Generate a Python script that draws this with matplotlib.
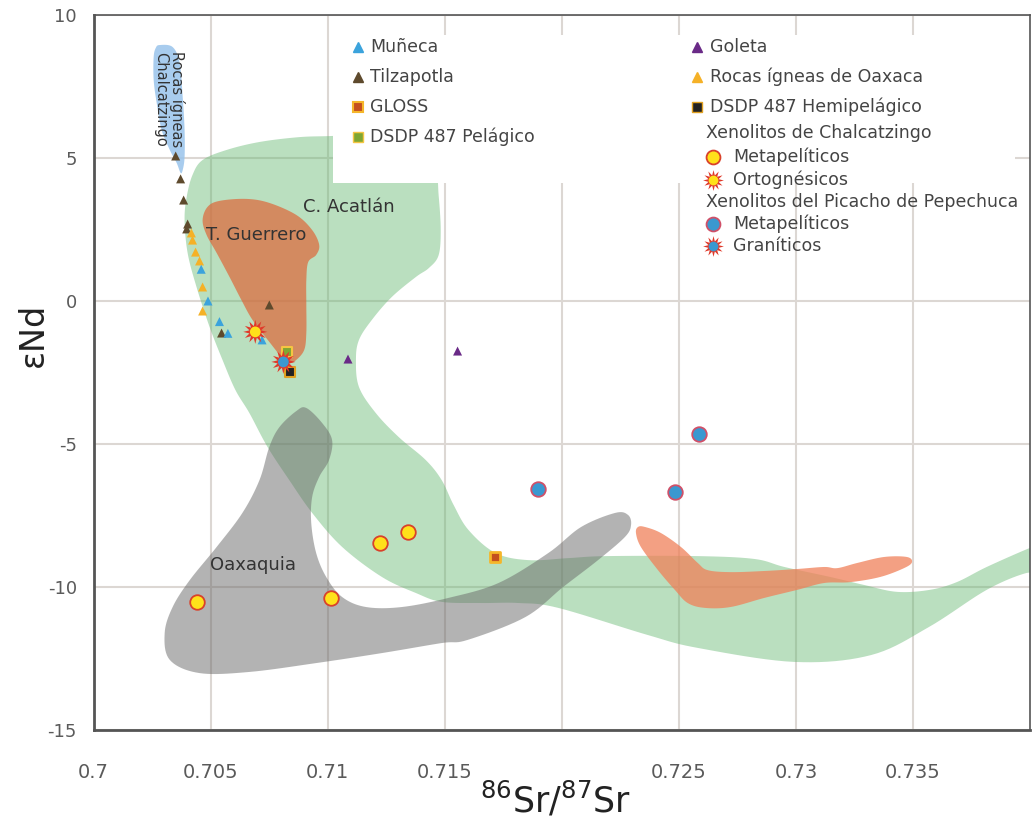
import numpy as np
import matplotlib
matplotlib.use("Agg")
import matplotlib.pyplot as plt
from matplotlib.patches import Polygon, Rectangle

plt.rcParams['font.family'] = ['DejaVu Sans']
plt.rcParams['axes.unicode_minus'] = False

# ---------------- data ----------------
munieca_x = [0.70460, 0.70489, 0.70538, 0.70574, 0.70720]
munieca_y = [1.11, 0.00, -0.72, -1.13, -1.36]

tilzapotla_x = [0.70351, 0.70372, 0.70385, 0.70402, 0.70398, 0.70751, 0.70547]
tilzapotla_y = [5.07, 4.27, 3.53, 2.69, 2.52, -0.14, -1.12]

oaxaca_x = [0.70418, 0.70423, 0.70436, 0.70453, 0.70466, 0.70466]
oaxaca_y = [2.38, 2.13, 1.71, 1.40, 0.49, -0.35]

goleta_x = [0.71087, 0.71555]
goleta_y = [-2.03, -1.75]

gloss_x = [0.71717]
gloss_y = [-8.95]

pelagico_x = [0.70828]
pelagico_y = [-1.78]

hemipelagico_x = [0.70840]
hemipelagico_y = [-2.48]

chal_meta_x = [0.70440, 0.71015, 0.71223, 0.71343]
chal_meta_y = [-10.52, -10.38, -8.46, -8.08]

chal_orto_x = [0.70691]
chal_orto_y = [-1.08]

pepe_meta_x = [0.71900, 0.72483, 0.72585]
pepe_meta_y = [-6.57, -6.68, -4.65]

pepe_gran_x = [0.70811]
pepe_gran_y = [-2.13]

# field outlines (data units)
acatlan_x = [0.70423, 0.70466, 0.70568, 0.70709, 0.70879, 0.71019, 0.7122, 0.7139, 0.7146,
             0.71474, 0.71483, 0.71474, 0.71432, 0.71377, 0.71274, 0.71189, 0.71134, 0.71121,
             0.71134, 0.71206, 0.71304, 0.71419, 0.71487, 0.71538, 0.71602, 0.71717, 0.71857,
             0.72028, 0.72189, 0.72581, 0.72823, 0.72951, 0.73147, 0.73292, 0.73432, 0.73572,
             0.73687, 0.73815, 0.73998, 0.7405, 0.7405, 0.73985, 0.73815, 0.73568, 0.73321,
             0.72994, 0.72581, 0.72368, 0.71985, 0.71815, 0.71657, 0.71487, 0.71377, 0.71232,
             0.71062, 0.70934, 0.70836, 0.70743, 0.70666, 0.70606, 0.70551, 0.70496, 0.70440,
             0.70402, 0.70389, 0.70398]
acatlan_y = [4.41, 4.93, 5.28, 5.56, 5.73, 5.77, 5.85, 5.6, 4.7,
             3.71, 2.5, 1.6, 1.15, 0.84, 0.14, -0.66, -1.36, -2.06,
             -3.01, -3.92, -4.76, -5.56, -6.26, -7.13, -8.01, -8.81, -9.06,
             -8.99, -8.92, -8.92, -9.02, -9.30, -9.65, -9.93, -10.17, -10.10,
             -9.83, -9.30, -8.64, -8.53, -9.58, -9.51, -10.10, -11.40, -12.38,
             -12.62, -12.13, -11.68, -10.73, -10.56, -10.56, -10.52, -10.21, -9.65,
             -8.60, -7.41, -6.26, -5.10, -3.92, -3.11, -2.06, -0.91, 0.49,
             1.68, 2.83, 3.64]

guerrero_x = [0.70466, 0.70487, 0.70538, 0.70653, 0.70751, 0.70866, 0.70934, 0.70964, 0.70951,
              0.70917, 0.70909, 0.70909, 0.70909, 0.70900, 0.70866, 0.70836, 0.70806, 0.70751,
              0.70679, 0.70632, 0.70581, 0.70526, 0.70483]
guerrero_y = [2.83, 3.29, 3.50, 3.57, 3.43, 3.01, 2.48, 1.96, 1.61,
              1.36, 0.73, -0.14, -1.12, -1.71, -2.06, -2.17, -1.99, -1.43,
              -0.66, 0.03, 0.84, 1.68, 2.31]

chalc_x = [0.70283, 0.70338, 0.70368, 0.70381, 0.70389, 0.70389, 0.70381, 0.70372, 0.70355,
           0.70326, 0.70291, 0.70270, 0.70257, 0.70257, 0.70266]
chalc_y = [8.95, 8.88, 8.32, 7.13, 5.98, 5.03, 4.58, 4.48, 4.83,
           5.28, 5.98, 6.92, 7.73, 8.53, 8.85]

oaxaquia_x = [0.70866, 0.70909, 0.70977, 0.71019, 0.71006, 0.70964, 0.70934, 0.70930, 0.70951,
              0.70994, 0.71062, 0.71164, 0.71317, 0.71517, 0.71730, 0.71943, 0.72083, 0.72228,
              0.72283, 0.72296, 0.72270, 0.72155, 0.72006, 0.71845, 0.71598, 0.71487, 0.71232,
              0.70951, 0.70666, 0.70453, 0.70326, 0.70304, 0.70338, 0.70411, 0.70526, 0.70636,
              0.70709, 0.70751, 0.70794]
oaxaquia_y = [-3.85, -3.74, -4.27, -4.86, -5.56, -6.15, -6.85, -7.76, -8.81,
              -9.65, -10.35, -10.70, -10.70, -10.38, -9.86, -8.81, -7.90, -7.41,
              -7.48, -7.83, -8.25, -9.06, -10.0, -11.05, -11.85, -11.96, -12.31,
              -12.66, -12.97, -13.01, -12.55, -11.61, -10.70, -9.76, -8.60, -7.41,
              -6.26, -5.10, -4.41]

salmon_x = [0.72355, 0.72423, 0.72509, 0.72581, 0.72623, 0.72721, 0.72866, 0.73006, 0.73121,
            0.73177, 0.73262, 0.73377, 0.73474, 0.73496, 0.73462, 0.73360, 0.73232, 0.73121,
            0.73006, 0.72866, 0.72721, 0.72611, 0.72538, 0.72483, 0.72411, 0.72338, 0.72317,
            0.72326]
salmon_y = [-7.90, -8.11, -8.60, -9.16, -9.41, -9.48, -9.44, -9.37, -9.30,
            -9.34, -9.16, -8.95, -8.95, -9.13, -9.34, -9.65, -9.83, -9.86,
            -10.10, -10.38, -10.70, -10.73, -10.56, -10.10, -9.41, -8.60, -8.11,
            -7.90]

xticks = [0.7, 0.705, 0.71, 0.715, 0.72, 0.725, 0.73, 0.735]
xtick_labels = ['0.7', '0.705', '0.71', '0.715', '', '0.725', '0.73', '0.735']
yticks = [-15, -10, -5, 0, 5, 10]


def smooth_closed(xs, ys, n=10):
    P = np.column_stack([xs, ys]).astype(float)
    m = len(P)
    t = np.linspace(0, 1, n, endpoint=False)[:, None]
    out = []
    for i in range(m):
        p0, p1, p2, p3 = P[i - 1], P[i], P[(i + 1) % m], P[(i + 2) % m]
        seg = 0.5 * (2 * p1 + (-p0 + p2) * t + (2 * p0 - 5 * p1 + 4 * p2 - p3) * t ** 2
                     + (-p0 + 3 * p1 - 3 * p2 + p3) * t ** 3)
        out.append(seg)
    return np.vstack(out)


fig = plt.figure(figsize=(10.33, 8.27), dpi=100)
ax = fig.add_axes([93.5 / 1033, 1 - 730 / 827, 936.5 / 1033, 715 / 827])
ax.set_xlim(0.7, 0.74)
ax.set_ylim(-15, 10)

ax.set_axisbelow(True)
ax.grid(True, color='#dcd7d3', linewidth=1.5)
ax.set_xticks(xticks)
ax.set_xticklabels(xtick_labels)
ax.set_yticks(yticks)
ax.tick_params(length=0, labelsize=13, labelcolor='#5a5a5a')
ax.tick_params(axis='x', pad=24)
ax.tick_params(axis='y', pad=12)
for lab in ax.get_xticklabels():
    lab.set_family(['Liberation Sans Narrow', 'DejaVu Sans'])
    lab.set_fontsize(14)
for s in ['left', 'bottom']:
    ax.spines[s].set_color('#555555')
    ax.spines[s].set_linewidth(2)
for s in ['top', 'right']:
    ax.spines[s].set_color('#555555')
    ax.spines[s].set_linewidth(1.2)

# fields
fields = [
    (acatlan_x, acatlan_y, (0.40, 0.72, 0.45), 0.45),
    (oaxaquia_x, oaxaquia_y, (0.41, 0.41, 0.41), 0.50),
    (guerrero_x, guerrero_y, (0.87, 0.40, 0.22), 0.70),
    (salmon_x, salmon_y, (0.94, 0.50, 0.35), 0.75),
    (chalc_x, chalc_y, (0.60, 0.77, 0.92), 0.85),
]
for fx, fy, col, a in fields:
    pts = smooth_closed(fx, fy)
    ax.add_patch(Polygon(pts, closed=True, facecolor=col, alpha=a, edgecolor='none', zorder=1))

# white legend background
ax.add_patch(Rectangle((0.2559, 0.765), 0.728, 0.207, transform=ax.transAxes,
                       facecolor='white', edgecolor='none', zorder=2))

# field labels
lab_kw = dict(fontsize=13, color='#333333', zorder=3)
ax.text(0.71092, 3.29, 'C. Acatlán', ha='center', va='center', **lab_kw)
ax.text(0.70479, 2.31, 'T. Guerrero', ha='left', va='center', **lab_kw)
ax.text(0.70496, -9.23, 'Oaxaquia', ha='left', va='center', **lab_kw)
ax.text(0.70323, 7.05, 'Rocas ígneas\nChalcatzingo', ha='center', va='center', rotation=-90,
        fontsize=10.5, color='#333333', linespacing=1.0, zorder=3)

# points
tri = dict(marker='^', s=42, edgecolors='none', zorder=4)
ax.scatter(tilzapotla_x, tilzapotla_y, color='#5e4a2d', **tri)
ax.scatter(oaxaca_x, oaxaca_y, color='#f5b127', **tri)
ax.scatter(munieca_x, munieca_y, color='#3ba3dc', **tri)
ax.scatter(goleta_x, goleta_y, color='#6a2a87', **tri)
ax.scatter(gloss_x, gloss_y, marker='s', s=60, color='#c4501f', edgecolors='#f5b62a', linewidths=2, zorder=4)
ax.scatter(pelagico_x, pelagico_y, marker='s', s=45, color='#7fa632', edgecolors='#f5c542', linewidths=1.5, zorder=4)
ax.scatter(hemipelagico_x, hemipelagico_y, marker='s', s=45, color='#222222', edgecolors='#e0a020', linewidths=1.5, zorder=4)
ax.scatter(chal_meta_x, chal_meta_y, marker='o', s=110, color='#ffe11a', edgecolors='#d9412a', linewidths=1.3, zorder=4)
ax.scatter(pepe_meta_x, pepe_meta_y, marker='o', s=110, color='#3a98d0', edgecolors='#d05068', linewidths=1.3, zorder=4)
ax.scatter(chal_orto_x, chal_orto_y, marker=(12, 1, 0), s=300, color='#e0392a', edgecolors='none', zorder=4)
ax.scatter(chal_orto_x, chal_orto_y, marker='o', s=60, color='#ffe11a', edgecolors='none', zorder=5)
ax.scatter(pepe_gran_x, pepe_gran_y, marker=(12, 1, 0), s=300, color='#e0392a', edgecolors='none', zorder=4)
ax.scatter(pepe_gran_x, pepe_gran_y, marker='o', s=60, color='#3a98d0', edgecolors='none', zorder=5)

# legend (manual)
T = ax.transAxes
leg_txt = dict(fontsize=12.5, color='#444444', va='center', ha='left', transform=T, zorder=6)
col1 = [
    ('Muñeca', dict(marker='^', color='#3ba3dc')),
    ('Tilzapotla', dict(marker='^', color='#5e4a2d')),
    ('GLOSS', dict(marker='s', color='#c4501f', mec='#f5b62a', mew=1.5)),
    ('DSDP 487 Pelágico', dict(marker='s', color='#7fa632', mec='#f5c542', mew=1)),
]
rows = [0.9552, 0.9133, 0.8713, 0.8294]
for (label, mk), yy in zip(col1, rows):
    ax.plot([0.2824], [yy], linestyle='none', markersize=7, transform=T, zorder=6,
            **({'mec': mk.get('color')} | mk))
    ax.text(0.2953, yy, label, **leg_txt)
col2 = [
    ('Goleta', dict(marker='^', color='#6a2a87')),
    ('Rocas ígneas de Oaxaca', dict(marker='^', color='#f5b127')),
    ('DSDP 487 Hemipelágico', dict(marker='s', color='#222222', mec='#e0a020', mew=1)),
]
for (label, mk), yy in zip(col2, rows[:3]):
    ax.plot([0.6445], [yy], linestyle='none', markersize=7, transform=T, zorder=6,
            **({'mec': mk.get('color')} | mk))
    ax.text(0.6583, yy, label, **leg_txt)
ax.text(0.6541, 0.8350, 'Xenolitos de Chalcatzingo', **leg_txt)
ax.text(0.6541, 0.7385, 'Xenolitos del Picacho de Pepechuca', **leg_txt)
ax.plot([0.6615], [0.8014], marker='o', markersize=10, color='#ffe11a', mec='#d9412a', mew=1.3,
        linestyle='none', transform=T, zorder=6)
ax.text(0.6828, 0.8014, 'Metapelíticos', **leg_txt)
ax.plot([0.6615], [0.7692], marker=(12, 1, 0), markersize=15, color='#e0392a', mec='none',
        linestyle='none', transform=T, zorder=6)
ax.plot([0.6615], [0.7692], marker='o', markersize=7, color='#ffe11a', mec='none',
        linestyle='none', transform=T, zorder=7)
ax.text(0.6828, 0.7692, 'Ortognésicos', **leg_txt)
ax.plot([0.6615], [0.7077], marker='o', markersize=10, color='#3a98d0', mec='#d05068', mew=1.3,
        linestyle='none', transform=T, zorder=6)
ax.text(0.6828, 0.7077, 'Metapelíticos', **leg_txt)
ax.plot([0.6615], [0.6769], marker=(12, 1, 0), markersize=15, color='#e0392a', mec='none',
        linestyle='none', transform=T, zorder=6)
ax.plot([0.6615], [0.6769], marker='o', markersize=7, color='#3a98d0', mec='none',
        linestyle='none', transform=T, zorder=7)
ax.text(0.6828, 0.6769, 'Graníticos', **leg_txt)

# axis labels
fig.text(33 / 1033, 1 - 335 / 827, 'εNd', rotation=90, fontsize=24, color='#222222',
         ha='center', va='center')
fig.text(555 / 1033, 1 - 800 / 827, r'$^{86}$Sr/$^{87}$Sr', fontsize=25, color='#222222',
         ha='center', va='center')

fig.savefig('out.png', dpi=100)
